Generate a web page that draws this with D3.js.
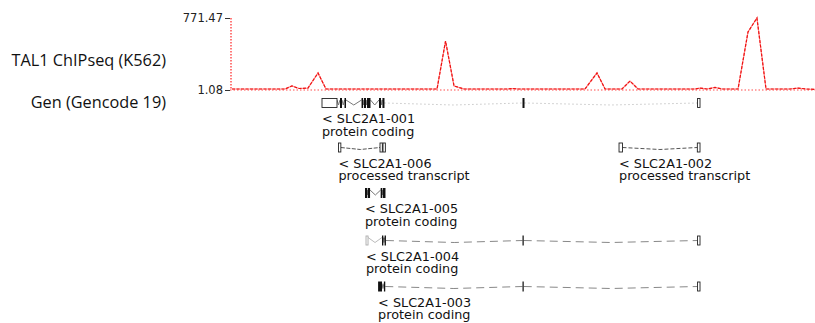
<!DOCTYPE html>
<html>
<head>
<meta charset="utf-8">
<script src="https://cdn.jsdelivr.net/npm/d3@7"></script>
<style>
  html, body { margin: 0; padding: 0; background: #fff; }
  svg { display: block; }
</style>
</head>
<body>
<svg id="chart" width="815" height="323"></svg>
<script>
// Track titles on the left
const trackNames = ["TAL1 ChIPseq (K562)", "Gen (Gencode 19)"];

// Signal axis ticks (min / max of the ChIP-seq track)
const axisTicks = [1.08, 771.47];

// Visible genomic window (chr1, hg19)
const regionStart = 43382800;
const regionEnd = 43435100;

// TAL1 ChIP-seq signal: positions (bp) and values
const signalPos = [43382980, 43387720, 43388340, 43388970, 43389770, 43390670, 43391380,
  43401310, 43402070, 43402830, 43403720, 43407650, 43408100, 43408550,
  43414540, 43415610, 43416330, 43417850, 43418560, 43419280,
  43424370, 43424820, 43425440, 43426160, 43426790,
  43428220, 43429110, 43429910, 43430720, 43432860, 43433580, 43434290, 43435099];
const signalVal = [12, 12, 44, 17, 22, 183, 12,
  12, 525, 44, 12, 12, 17, 12,
  12, 183, 12, 12, 97, 12,
  12, 22, 12, 28, 12,
  12, 622, 771.47, 12, 12, 22, 12, 8];

// Gencode 19 transcripts of SLC2A1 (minus strand)
const transcriptIds = ["SLC2A1-001", "SLC2A1-006", "SLC2A1-002", "SLC2A1-005", "SLC2A1-004", "SLC2A1-003"];
const transcriptTypes = ["protein coding", "processed transcript", "processed transcript",
  "protein coding", "protein coding", "protein coding"];
const transcriptRows = [0, 1, 1, 2, 3, 4];

// Exons per transcript: [start, end, kind]  kind: cds | utr | faded
const exons001 = [
  [43391025, 43392366, "utr"], [43392634, 43392813, "cds"], [43393036, 43393170, "cds"],
  [43394560, 43394700, "cds"], [43394780, 43394960, "cds"], [43395050, 43395360, "cds"],
  [43396120, 43396300, "cds"], [43396430, 43396610, "cds"],
  [43408950, 43409130, "cds"], [43424600, 43424820, "utr"]];
const exons006 = [
  [43392500, 43392710, "utr"], [43396210, 43396420, "utr"], [43396480, 43396690, "utr"]];
const exons002 = [
  [43417580, 43417890, "utr"], [43424580, 43424820, "utr"]];
const exons005 = [
  [43394870, 43395050, "cds"], [43395110, 43395320, "cds"],
  [43396270, 43396420, "cds"], [43396480, 43396700, "cds"]];
const exons004 = [
  [43394960, 43395140, "faded"], [43396390, 43396510, "cds"], [43396620, 43396740, "cds"],
  [43408950, 43409060, "cds"], [43424600, 43424820, "utr"]];
const exons003 = [
  [43396040, 43396390, "cds"], [43396560, 43396680, "cds"],
  [43408950, 43409060, "cds"], [43424600, 43424820, "utr"]];
const transcriptExons = [exons001, exons006, exons002, exons005, exons004, exons003];

// ---------------------------------------------------------------------------
const svg = d3.select("#chart");

const x = d3.scaleLinear().domain([regionStart, regionEnd]).range([230, 815]);
const y = d3.scaleLinear().domain([axisTicks[0], axisTicks[1]]).range([90, 18]);

// Track titles
const titleY = [66, 108];
svg.selectAll("text.track-title")
  .data(trackNames)
  .join("text")
  .attr("class", "track-title")
  .attr("x", 166)
  .attr("y", (d, i) => titleY[i])
  .attr("text-anchor", "end")
  .attr("font-family", "'Open Sans', sans-serif")
  .attr("font-size", 16.3)
  .attr("fill", "#111")
  .text(d => d);

// Signal axis
const axis = d3.axisLeft(y)
  .tickValues(axisTicks)
  .tickSize(5)
  .tickPadding(2)
  .tickFormat(d3.format(".2f"));
const axisG = svg.append("g").attr("transform", "translate(230,0)").call(axis);
axisG.select(".domain").remove();
axisG.selectAll(".tick line").attr("stroke", "#333");
axisG.selectAll(".tick text")
  .attr("font-family", "'DejaVu Sans', sans-serif")
  .attr("font-size", 11.5)
  .attr("fill", "#222");

// Dotted frame of the signal track
svg.append("line")
  .attr("x1", x(regionStart) + 1).attr("x2", x(regionStart) + 1)
  .attr("y1", y(axisTicks[1])).attr("y2", y(axisTicks[0]))
  .attr("stroke", "#ff4d4d").attr("stroke-width", 1.5).attr("stroke-dasharray", "1.5,1.5");
svg.append("line")
  .attr("x1", x(regionStart)).attr("x2", x(regionEnd))
  .attr("y1", y(axisTicks[0])).attr("y2", y(axisTicks[0]))
  .attr("stroke", "#ff4d4d").attr("stroke-width", 1.2).attr("stroke-dasharray", "1.5,2");

// Signal line
const line = d3.line().x((d, i) => x(signalPos[i])).y(d => y(d));
svg.append("path")
  .datum(signalVal)
  .attr("d", line)
  .attr("fill", "none")
  .attr("stroke", "#ff8a8a")
  .attr("stroke-width", 1.2);
svg.append("path")
  .datum(signalVal)
  .attr("d", line)
  .attr("fill", "none")
  .attr("stroke", "#ee1111")
  .attr("stroke-width", 1.2)
  .attr("stroke-dasharray", "3,1.5");

// Gene models
const rowY = [103, 147.5, 193, 240.5, 286.5];
const intronStyle = {
  "SLC2A1-001": { stroke: "#aaa", dash: "1,3" },
  "SLC2A1-006": { stroke: "#555", dash: "4,1.5" },
  "SLC2A1-002": { stroke: "#555", dash: "4,2" },
  "SLC2A1-005": { stroke: "#888", dash: null },
  "SLC2A1-004": { stroke: "#888", dash: "8,5" },
  "SLC2A1-003": { stroke: "#888", dash: "8,5" }
};

transcriptIds.forEach((id, t) => {
  const cy = rowY[transcriptRows[t]];
  const ex = transcriptExons[t];
  const g = svg.append("g").attr("class", "transcript");
  const st = intronStyle[id];

  // introns
  const introns = d3.pairs(ex).map(([a, b]) => [a[1], b[0], b[2] === "faded" || a[2] === "faded"]);
  g.selectAll("path.intron")
    .data(introns)
    .join("path")
    .attr("class", "intron")
    .attr("d", d => {
      const x1 = x(d[0]), x2 = x(d[1]), xm = (x1 + x2) / 2;
      if (x2 - x1 < 20) return `M${x1},${cy - 3}L${xm},${cy + 2}L${x2},${cy - 3}`;
      return `M${x1},${cy}L${xm},${cy + 2}L${x2},${cy}`;
    })
    .attr("fill", "none")
    .attr("stroke", d => d[2] ? "#bbb" : (d[1] - d[0] < 1800 ? "#777" : st.stroke))
    .attr("stroke-width", 1)
    .attr("stroke-dasharray", d => (d[1] - d[0] < 1800 ? null : st.dash));

  // exons
  g.selectAll("rect.exon")
    .data(ex)
    .join("rect")
    .attr("class", "exon")
    .attr("x", d => x(d[0]))
    .attr("width", d => Math.max(1, x(d[1]) - x(d[0])))
    .attr("y", d => d[2] === "cds" ? cy - 5 : cy - 4.5)
    .attr("height", d => d[2] === "cds" ? 10 : 9)
    .attr("fill", d => d[2] === "cds" ? "#111" : "#fff")
    .attr("stroke", d => d[2] === "cds" ? "none" : (d[2] === "faded" ? "#aaa" : "#222"))
    .attr("stroke-width", 0.9);

  // labels
  const lx = x(ex[0][0]);
  const label = g.append("text")
    .attr("font-family", "'DejaVu Sans', sans-serif")
    .attr("font-size", 12.8)
    .attr("fill", "#111");
  label.append("tspan").attr("x", lx).attr("y", cy + 20).text("< " + id);
  label.append("tspan").attr("x", lx).attr("y", cy + 32.5).text(transcriptTypes[t]);
});
</script>
</body>
</html>
